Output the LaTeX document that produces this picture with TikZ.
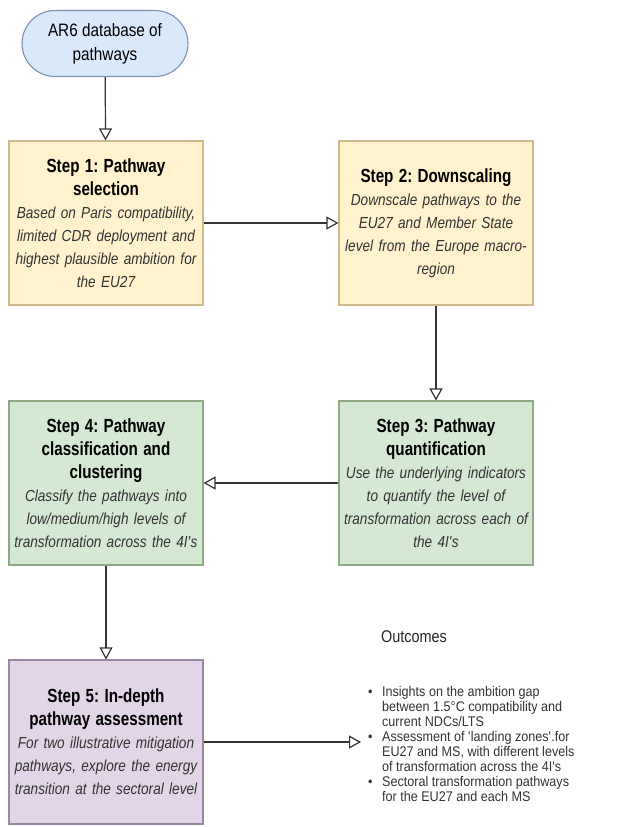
\documentclass[tikz,border=0pt]{standalone}
\usepackage{fontspec}
\setmainfont{Liberation Sans}[FakeStretch=0.85, BoldFeatures={FakeStretch=0.8}]
\newfontfamily\listfont{Liberation Sans}[FakeStretch=0.9]
\usetikzlibrary{arrows.meta}
\definecolor{ovalfill}{HTML}{DAE8FC}
\definecolor{ovalline}{HTML}{7D90AD}
\definecolor{yelfill}{HTML}{FFF2CC}
\definecolor{yelline}{HTML}{CDB98A}
\definecolor{grnfill}{HTML}{D5E8D4}
\definecolor{grnline}{HTML}{90A985}
\definecolor{purfill}{HTML}{E1D5E7}
\definecolor{purline}{HTML}{9A88A3}
\newcommand{\ttl}[1]{{\upshape\bfseries\color{black}\fontsize{19}{23}\selectfont #1}}
\frenchspacing

\begin{document}
\begin{tikzpicture}[x=1pt,y=-1pt,
    stepbox/.style={rectangle, line width=1.1pt, minimum width=194pt, minimum height=164pt,
      inner sep=0pt, text width=192pt, align=center,
      font=\fontsize{16}{23}\selectfont\itshape, text=black!80},
    yelbox/.style={draw=yelline, fill=yelfill},
    grnbox/.style={draw=grnline, fill=grnfill},
    purbox/.style={draw=purline, fill=purfill},
    flow/.style={draw=black!80, line width=1.2pt, -{Triangle[open, length=12pt, width=13pt]}}]
  \useasboundingbox (0,0) rectangle (618,827);

  \node[draw=ovalline, fill=ovalfill, line width=1.1pt, rounded corners=33pt,
        minimum width=166pt, minimum height=66pt, align=center,
        font=\fontsize{18}{24}\selectfont] (ar6) at (105,43.5) {AR6 database of\\pathways};

  \node[stepbox, yelbox] (sel) at (106,223)
    {\ttl{Step 1: Pathway}\\\ttl{selection}\\Based on Paris compatibility,\\limited CDR deployment and\\highest plausible ambition for\\the EU27};
  \node[stepbox, yelbox] (down) at (436,223)
    {\ttl{Step 2: Downscaling}\\Downscale pathways to the\\EU27 and Member State\\level from the Europe macro-\\region};
  \node[stepbox, grnbox] (quant) at (436,483)
    {\ttl{Step 3: Pathway}\\\ttl{quantification}\\Use the underlying indicators\\to quantify the level of\\transformation across each of\\the 4I\textquotesingle s};
  \node[stepbox, grnbox] (clus) at (106,483)
    {\ttl{Step 4: Pathway}\\\ttl{classification and}\\\ttl{clustering}\\Classify the pathways into\\low/medium/high levels of\\transformation across the 4I\textquotesingle s};
  \node[stepbox, purbox] (assess) at (106,742)
    {\ttl{Step 5: In-depth}\\\ttl{pathway assessment}\\For two illustrative mitigation\\pathways, explore the energy\\transition at the sectoral level};

  % outcomes
  \node[font=\fontsize{17}{20}\selectfont, text=black!85] (outtitle) at (414,637) {Outcomes};
  \node[anchor=west, inner sep=0pt, font=\listfont\fontsize{14}{15}\selectfont, text=black!80] (outlist) at (368,746)
    {\begin{tabular}{@{}l@{\hspace{9.5pt}}l@{}}
      \textbullet & Insights on the ambition gap\\
                  & between 1.5°C compatibility and\\
                  & current NDCs/LTS\\
      \textbullet & Assessment of \textquotesingle landing zones\textquotesingle.for\\
                  & EU27 and MS, with different levels\\
                  & of transformation across the 4I\textquotesingle s\\
      \textbullet & Sectoral transformation pathways\\
                  & for the EU27 and each MS
    \end{tabular}};
  \coordinate (outtip) at (361,742);

  \draw[flow] (ar6) -- (sel);
  \draw[flow] (sel) -- (down);
  \draw[flow] (down) -- (quant);
  \draw[flow] (quant) -- (clus);
  \draw[flow] (clus) -- (assess);
  \draw[flow] (assess) -- (outtip);
\end{tikzpicture}
\end{document}
